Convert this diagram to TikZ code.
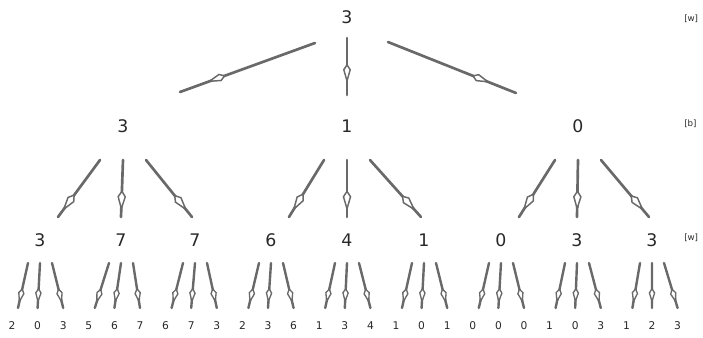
\documentclass[tikz,border=0pt]{standalone}
\usepackage{fontspec}
\setmainfont{DejaVu Sans}
\usetikzlibrary{arrows.meta,decorations.markings,calc}
\definecolor{edgegray}{RGB}{105,105,105}
\definecolor{txtgray}{RGB}{40,40,40}
\tikzset{
  big/.style={text=txtgray, font=\fontsize{13}{14}\selectfont, inner sep=0pt},
  small/.style={text=txtgray, font=\fontsize{8}{9}\selectfont, inner sep=0pt},
  side/.style={text=txtgray, font=\fontsize{6.5}{7}\selectfont, inner sep=0pt, anchor=west},
  edgebase/.style={draw=edgegray, line cap=round, postaction={decorate}},
  rootedge/.style={edgebase, line width=2pt,
    decoration={markings, mark=at position 0.8 with {\arrow[edgegray]{Kite[fill=white,line width=1.1pt,length=15pt,width=6pt,inset=4.5pt]}}}},
  midedge/.style={edgebase, line width=2pt,
    decoration={markings, mark=at position 0.9 with {\arrow[edgegray]{Kite[fill=white,line width=1.1pt,length=16pt,width=6.5pt,inset=5pt]}}}},
  leafedge/.style={edgebase, line width=1.8pt,
    decoration={markings, mark=at position 0.9 with {\arrow[edgegray]{Kite[fill=white,line width=1pt,length=12pt,width=5pt,inset=4pt]}}}},
}
\begin{document}
\begin{tikzpicture}[x=0.75pt,y=-0.75pt]
\useasboundingbox (0,0) rectangle (703,337);
% nodes
\node[big] (r) at (347,17) {3};
\node[big] (a) at (123,126) {3};
\node[big] (b) at (347,126) {1};
\node[big] (c) at (578,126) {0};
\foreach \v/\xx [count=\i] in {3/40,7/121,7/195,6/271,4/347,1/424,0/501,3/577,3/652}
  \node[big] (n\i) at (\xx,240) {\v};
\foreach \v [count=\k] in {2,0,3,5,6,7,6,7,3,2,3,6,1,3,4,1,0,1,0,0,0,1,0,3,1,2,3}
  \node[small] (m\k) at ({12+25.6*(\k-1)},326) {\v};
\node[side] (s1) at (684,19) {[w]};
\node[side] (s2) at (684,124) {[b]};
\node[side] (s3) at (684,238) {[w]};
% root edges
\draw[rootedge] ($(r)+(-32,26)$) -- ($(a)+(57,-34)$);
\draw[rootedge] ($(r)+(0,21)$) -- ($(b)+(0,-31)$);
\draw[rootedge] ($(r)+(41,25)$) -- ($(c)+(-62,-33)$);
% level 2 edges
\foreach \p/\ca/\cb/\cc in {a/1/2/3, b/4/5/6, c/7/8/9} {
  \draw[midedge] ($(\p)+(-23,34)$) -- ($(n\ca)+(18,-23)$);
  \draw[midedge] ($(\p)+(0,34)$) -- ($(n\cb)+(0,-23)$);
  \draw[midedge] ($(\p)+(23,34)$) -- ($(n\cc)+(-3,-23)$);
}
% leaf edges
\foreach \i in {1,...,9} {
  \pgfmathtruncatemacro\ka{3*\i-2}
  \pgfmathtruncatemacro\kb{3*\i-1}
  \pgfmathtruncatemacro\kc{3*\i}
  \draw[leafedge] ($(n\i)+(-12,23)$) -- ($(m\ka)+(6,-18)$);
  \draw[leafedge] ($(n\i)+(0,23)$) -- ($(m\kb)+(0,-18)$);
  \draw[leafedge] ($(n\i)+(12,23)$) -- ($(m\kc)+(0,-18)$);
}
\end{tikzpicture}
\end{document}
